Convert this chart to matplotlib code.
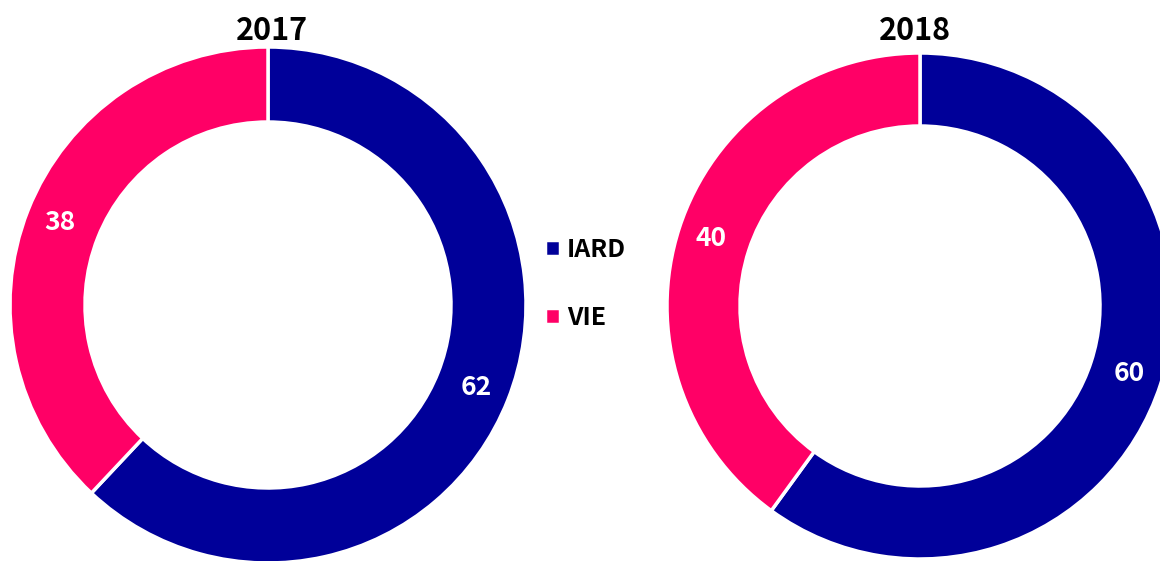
import matplotlib
matplotlib.use("Agg")
import matplotlib.pyplot as plt

plt.rcParams['font.family'] = ['Noto Sans CJK JP', 'DejaVu Sans']

years = ["2017", "2018"]
categories = ["IARD", "VIE"]
values_2017 = [62, 38]
values_2018 = [60, 40]
colors = ["#000099", "#FF0066"]

W, H = 1160, 561
fig = plt.figure(figsize=(W / 100, H / 100), dpi=100)
ax = fig.add_axes([0, 0, 1, 1])

# donut geometry in pixels (x, y from top, outer radius, ring width)
donuts = [
    (years[0], values_2017, (268, 305), 258, 75, (272, 31)),
    (years[1], values_2018, (920, 306), 253, 73, (915, 31)),
]

handles = None
for year, vals, (cx, cy), r, w, (tx, ty) in donuts:
    wedges, _, autotexts = ax.pie(
        vals, colors=colors, startangle=90, counterclock=False,
        center=(cx, H - cy), radius=r, frame=True,
        wedgeprops=dict(width=w, edgecolor="white", linewidth=2.5),
        autopct=lambda p: f"{p:.0f}", pctdistance=(r - w / 2 + 3) / r,
        textprops=dict(color="white", fontsize=19, fontweight="bold"),
    )
    ax.text(tx, H - ty, year, ha="center", va="center",
            fontsize=22, fontweight="bold", color="black")
    if handles is None:
        handles = wedges

ax.set_xlim(0, W)
ax.set_ylim(0, H)
ax.set_aspect("equal")
ax.axis("off")

ax.legend(handles, categories, loc="center left",
          bbox_to_anchor=(522 / W, 1 - 284 / H), frameon=False,
          handlelength=0.6, handleheight=0.6, handletextpad=0.3,
          labelspacing=1.75, prop=dict(size=18, weight="bold"))

fig.savefig("out.png", dpi=100)
